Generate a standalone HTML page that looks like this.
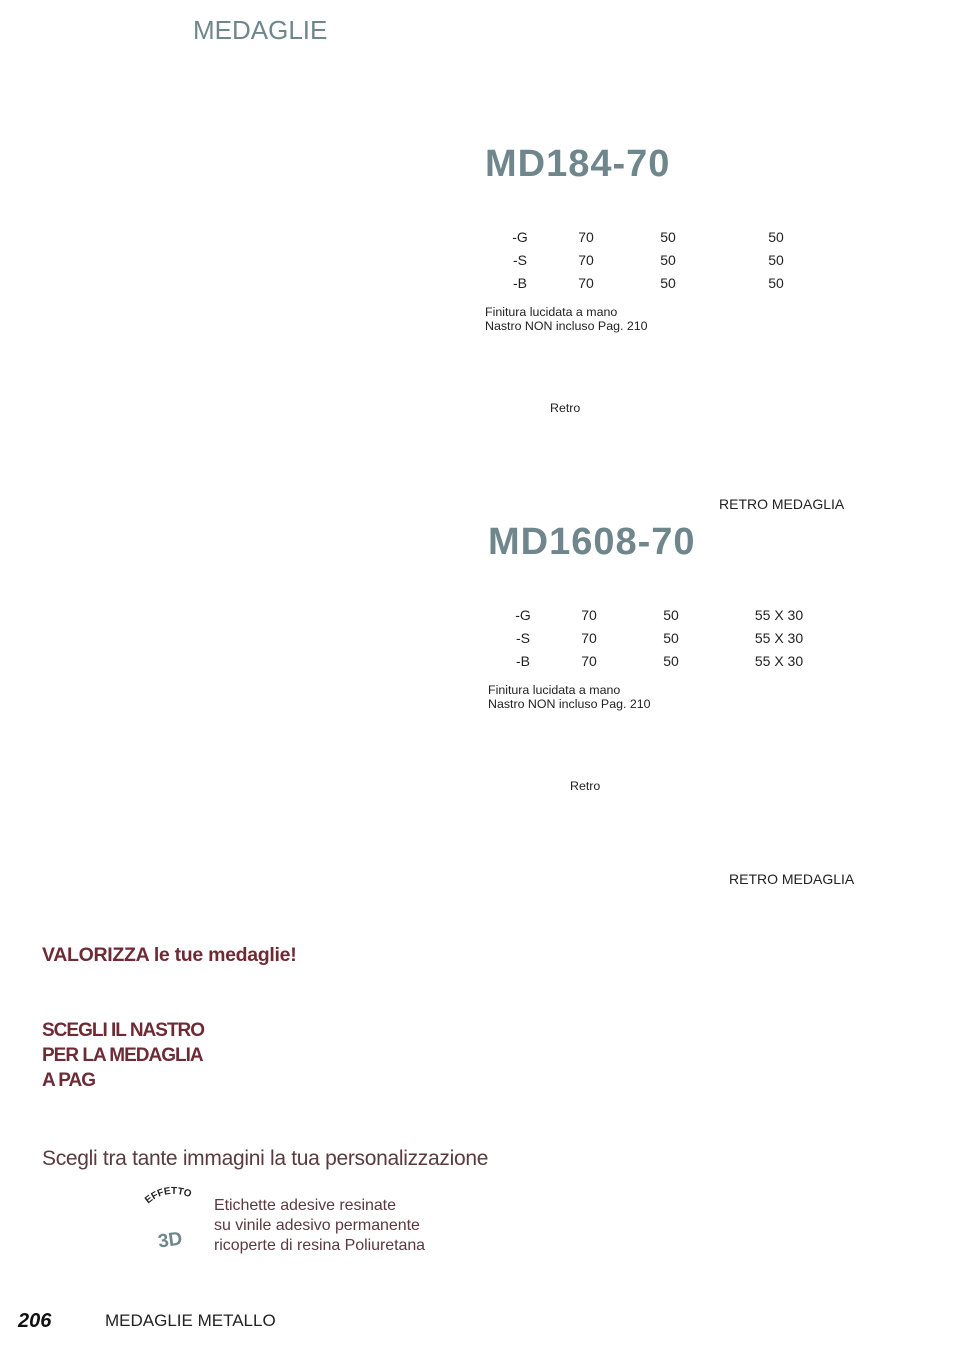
<!DOCTYPE html>
<html><head><meta charset="utf-8"><style>
html,body{margin:0;padding:0;background:#fff;}
body{width:970px;height:1350px;position:relative;overflow:hidden;font-family:"Liberation Sans",sans-serif;color:#222;}
.a{position:absolute;white-space:nowrap;line-height:1;}
.c{transform:translateX(-50%);}
.t{font-size:14px;color:#222;}
.s{font-size:12.4px;color:#222;}
.big{font-size:38px;font-weight:bold;color:#6f878c;letter-spacing:1px;}
.m{color:#6e2b35;font-weight:bold;font-size:19px;letter-spacing:-1px;}
</style></head><body>
<div class="a" style="left:193px;top:17px;font-size:26px;color:#6f878c;">MEDAGLIE</div>

<div class="a big" style="left:485px;top:145px;">MD184-70</div>
<div class="a t c" style="left:520px;top:230px;">-G</div>
<div class="a t c" style="left:520px;top:253px;">-S</div>
<div class="a t c" style="left:520px;top:276px;">-B</div>
<div class="a t c" style="left:586px;top:230px;">70</div>
<div class="a t c" style="left:586px;top:253px;">70</div>
<div class="a t c" style="left:586px;top:276px;">70</div>
<div class="a t c" style="left:668px;top:230px;">50</div>
<div class="a t c" style="left:668px;top:253px;">50</div>
<div class="a t c" style="left:668px;top:276px;">50</div>
<div class="a t c" style="left:776px;top:230px;">50</div>
<div class="a t c" style="left:776px;top:253px;">50</div>
<div class="a t c" style="left:776px;top:276px;">50</div>
<div class="a s" style="left:485px;top:306px;">Finitura lucidata a mano</div>
<div class="a s" style="left:485px;top:320px;">Nastro NON incluso Pag. 210</div>
<div class="a s" style="left:550px;top:402px;">Retro</div>
<div class="a t" style="left:719px;top:497px;">RETRO MEDAGLIA</div>

<div class="a big" style="left:488px;top:523px;">MD1608-70</div>
<div class="a t c" style="left:523px;top:608px;">-G</div>
<div class="a t c" style="left:523px;top:631px;">-S</div>
<div class="a t c" style="left:523px;top:654px;">-B</div>
<div class="a t c" style="left:589px;top:608px;">70</div>
<div class="a t c" style="left:589px;top:631px;">70</div>
<div class="a t c" style="left:589px;top:654px;">70</div>
<div class="a t c" style="left:671px;top:608px;">50</div>
<div class="a t c" style="left:671px;top:631px;">50</div>
<div class="a t c" style="left:671px;top:654px;">50</div>
<div class="a t c" style="left:779px;top:608px;">55 X 30</div>
<div class="a t c" style="left:779px;top:631px;">55 X 30</div>
<div class="a t c" style="left:779px;top:654px;">55 X 30</div>
<div class="a s" style="left:488px;top:684px;">Finitura lucidata a mano</div>
<div class="a s" style="left:488px;top:698px;">Nastro NON incluso Pag. 210</div>
<div class="a s" style="left:570px;top:780px;">Retro</div>
<div class="a t" style="left:729px;top:872px;">RETRO MEDAGLIA</div>

<div class="a m" style="left:42px;top:946px;letter-spacing:-0.3px;font-size:19.5px;">VALORIZZA le tue medaglie!</div>
<div class="a m" style="left:42px;top:1021px;">SCEGLI IL NASTRO</div>
<div class="a m" style="left:42px;top:1046px;">PER LA MEDAGLIA</div>
<div class="a m" style="left:42px;top:1071px;">A PAG</div>

<div class="a" style="left:42px;top:1148px;font-size:21px;color:#5a3a40;letter-spacing:-0.3px;">Scegli tra tante immagini la tua personalizzazione</div>
<svg class="a" style="left:140px;top:1182px;" width="65" height="75">
<path id="arc" d="M8,22 Q28,4 56,18" fill="none"/>
<text font-family="Liberation Sans" font-weight="bold" font-size="10" fill="#222"><textPath href="#arc">EFFETTO</textPath></text>
<text x="18" y="64" font-family="Liberation Sans" font-weight="bold" font-size="19" fill="#6f878c" transform="rotate(-8 30 58)">3D</text>
</svg>
<div class="a" style="left:214px;top:1196px;font-size:16px;color:#5a3a40;line-height:20px;letter-spacing:-0.05px;">Etichette adesive resinate<br>su vinile adesivo permanente<br>ricoperte di resina Poliuretana</div>

<div class="a" style="left:18px;top:1311px;font-size:20px;font-weight:bold;font-style:italic;color:#111;">206</div>
<div class="a" style="left:105px;top:1312px;font-size:17px;color:#222;">MEDAGLIE METALLO</div>
</body></html>
